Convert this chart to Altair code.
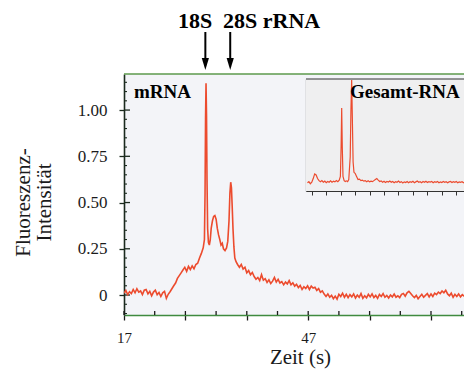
import altair as alt
import pandas as pd

SERIF = "Liberation Serif"
RED = "#ec4b2e"

# ---------------- main electropherogram (mRNA) ----------------
left_t = [17.0, 17.3, 17.6, 17.9, 18.2, 18.5, 18.8, 19.1, 19.4, 19.7, 20.0, 20.3, 20.6, 20.9,
          21.2, 21.5, 21.8, 22.1, 22.4, 22.7, 23.0, 23.3, 23.6, 23.9, 24.2, 24.5, 24.8]
left_v = [0.010, 0.025, 0.002, 0.018, 0.008, 0.030, 0.012, 0.034, 0.016, 0.022, 0.002, 0.026,
          0.030, 0.006, 0.020, -0.004, 0.016, 0.026, 0.002, 0.014, -0.008, 0.012, 0.020,
          -0.018, 0.004, 0.018, 0.034]

peak_t = [25.1, 25.4, 25.7, 26.0, 26.3, 26.6, 26.9, 27.2, 27.5, 27.8, 28.1, 28.4, 28.7, 29.0,
          29.3, 29.6, 29.9, 30.1, 30.2, 30.28, 30.36, 30.44, 30.52, 30.62, 30.75, 30.9, 31.05,
          31.2, 31.4, 31.6, 31.8, 32.0, 32.2, 32.4, 32.6, 32.8, 33.0, 33.2, 33.45, 33.7, 33.9,
          34.1, 34.25, 34.38, 34.5, 34.62, 34.75, 34.9, 35.05, 35.25, 35.5, 35.8, 36.1, 36.4,
          36.7, 37.0, 37.3, 37.6, 37.9]
peak_v = [0.050, 0.065, 0.090, 0.105, 0.120, 0.135, 0.150, 0.128, 0.155, 0.138, 0.158, 0.142,
          0.165, 0.172, 0.200, 0.225, 0.255, 0.300, 0.550, 0.950, 1.145, 0.970, 0.620, 0.360,
          0.285, 0.270, 0.300, 0.360, 0.400, 0.425, 0.430, 0.410, 0.360, 0.325, 0.300, 0.270,
          0.280, 0.250, 0.240, 0.255, 0.290, 0.400, 0.550, 0.610, 0.580, 0.480, 0.360, 0.260,
          0.200, 0.180, 0.165, 0.150, 0.165, 0.140, 0.150, 0.120, 0.132, 0.110, 0.122]

tail_t = [38.2, 38.5, 38.8, 39.1, 39.4, 39.7, 40.0, 40.3, 40.6, 40.9, 41.2, 41.5, 41.8, 42.1,
          42.4, 42.7, 43.0, 43.3, 43.6, 43.9, 44.2, 44.5, 44.8, 45.1, 45.4, 45.7, 46.0, 46.3,
          46.6, 46.9, 47.2, 47.5, 47.8, 48.1, 48.4, 48.7, 49.0, 49.3, 49.6, 49.9, 50.2, 50.5,
          50.8, 51.1, 51.4, 51.7, 52.0, 52.3, 52.6, 52.9, 53.2, 53.5, 53.8, 54.1, 54.4, 54.7,
          55.0, 55.3, 55.6, 55.9, 56.2, 56.5, 56.8, 57.1, 57.4, 57.7, 58.0, 58.3, 58.6, 58.9,
          59.2, 59.5, 59.8, 60.1, 60.4, 60.7, 61.0, 61.3, 61.6, 61.9, 62.2, 62.5, 62.8, 63.1,
          63.4, 63.7, 64.0, 64.3, 64.6, 64.9, 65.2, 65.5, 65.8, 66.1, 66.4, 66.7, 67.0, 67.3,
          67.6, 67.9, 68.2, 68.5, 68.8, 69.1, 69.4, 69.7, 70.0, 70.3, 70.6, 70.9, 71.2, 71.5,
          71.8, 72.1, 72.4, 72.7, 73.0]
tail_v = [0.100, 0.085, 0.095, 0.078, 0.110, 0.080, 0.088, 0.068, 0.082, 0.062, 0.075, 0.095,
          0.070, 0.085, 0.065, 0.072, 0.055, 0.070, 0.060, 0.078, 0.055, 0.066, 0.048, 0.058,
          0.040, 0.052, 0.030, 0.045, 0.035, 0.050, 0.030, 0.048, 0.038, 0.042, 0.025, 0.035,
          0.015, 0.022, 0.005, -0.008, 0.006, -0.012, -0.002, -0.020, -0.006, -0.022, 0.004,
          -0.008, 0.010, -0.012, 0.004, -0.014, 0.002, -0.010, 0.006, -0.016, 0.000, -0.012,
          0.008, -0.018, -0.004, -0.015, 0.004, -0.010, 0.006, -0.014, -0.002, -0.018, 0.003,
          -0.008, 0.008, -0.012, -0.002, -0.016, 0.000, -0.010, 0.005, -0.012, -0.004, -0.014,
          0.004, 0.008, -0.006, 0.012, 0.020, 0.008, -0.004, -0.014, -0.002, -0.020, -0.008,
          0.004, -0.012, -0.002, 0.008, -0.010, 0.006, -0.008, 0.010, 0.002, 0.016, 0.008,
          0.022, 0.012, 0.026, 0.006, -0.004, 0.010, -0.012, 0.004, -0.008, 0.006, -0.010,
          0.002, -0.006, 0.008, -0.004]

# ---------------- inset (Gesamt-RNA) ----------------
inset_t = [17.5, 18.0, 18.5, 19.0, 19.5, 20.0, 20.5, 21.0, 21.5, 22.0, 22.5, 23.0, 23.5, 24.0,
           24.5, 25.0, 25.5, 26.0, 26.5, 27.0, 27.5, 28.0, 28.5, 28.9, 29.15, 29.35, 29.55,
           29.8, 30.2, 30.6, 31.0, 31.4, 31.8, 32.3, 32.55, 32.8, 33.05, 33.3, 33.6, 34.0,
           34.5, 35.0, 35.5, 36.0, 36.5, 37.0, 37.5, 38.0, 38.5, 39.0, 39.5, 40.0, 40.5, 41.0,
           41.5, 42.0, 42.5, 43.0, 43.5, 44.0, 44.5, 45.0, 45.5, 46.0, 46.5, 47.0, 47.5, 48.0,
           48.5, 49.0, 49.5, 50.0, 50.5, 51.0, 51.5, 52.0, 52.5, 53.0, 53.5, 54.0, 54.5, 55.0,
           55.5, 56.0, 56.5, 57.0, 57.5, 58.0, 58.5, 59.0, 59.5, 60.0, 60.5, 61.0, 61.5, 62.0,
           62.5, 63.0, 63.5, 64.0, 64.5, 65.0, 65.5, 66.0, 66.5, 67.0, 67.5, 68.0, 68.5, 69.0,
           69.5, 70.0, 70.5, 71.0, 71.5, 72.0, 72.5, 73.0]
inset_v = [0.000, 0.010, -0.010, 0.005, 0.040, 0.085, 0.075, 0.040, 0.020, 0.010, 0.020, 0.005,
           0.015, 0.000, 0.012, 0.005, 0.018, 0.004, 0.014, 0.008, 0.020, 0.010, 0.025, 0.060,
           0.350, 0.720, 0.350, 0.060, 0.020, 0.012, 0.018, 0.010, 0.030, 0.250, 0.700, 0.990,
           0.600, 0.200, 0.100, 0.090, 0.060, 0.030, 0.035, 0.020, 0.025, 0.015, 0.020, 0.010,
           0.018, 0.008, 0.015, 0.010, 0.020, 0.030, 0.040, 0.025, 0.012, 0.018, 0.005, 0.014,
           0.002, 0.012, 0.006, 0.016, 0.004, 0.012, 0.000, 0.010, 0.004, 0.015, 0.002, 0.010,
           -0.002, 0.008, 0.002, 0.012, 0.000, 0.010, 0.004, 0.014, 0.000, 0.008, 0.016, 0.004,
           0.010, 0.000, 0.012, 0.004, 0.014, 0.002, 0.010, 0.006, 0.012, 0.000, 0.010, 0.004,
           0.012, 0.000, 0.008, 0.002, 0.012, 0.004, 0.010, 0.000, 0.008, 0.012, 0.002, 0.010,
           0.004, 0.012, 0.000, 0.008, 0.004, 0.010, 0.000, 0.008, 0.004, 0.010]

# ---------------- axes / annotations ----------------
x_ticks = [17, 22, 27, 32, 37, 42, 47, 52, 57, 62, 67, 72]
y_major = [0, 0.25, 0.5, 0.75, 1.0]
y_minor = [-0.1, -0.05, 0.05, 0.1, 0.15, 0.2, 0.3, 0.35, 0.4, 0.45, 0.55, 0.6, 0.65, 0.7,
           0.8, 0.85, 0.9, 0.95, 1.05, 1.1, 1.15]
inset_x_ticks = [19, 24, 29, 34, 39, 44, 49, 54, 59, 64, 69]
inset_y_ticks = [0, 0.125, 0.25, 0.375, 0.5, 0.625, 0.75, 0.875]
arrow_names = ["18S", "28S"]
arrow_t = [30.25, 34.3]
top_labels = ["18S", "28S rRNA"]
panel_labels = ["mRNA", "Gesamt-RNA"]

W, H = 340, 241
IX0 = 182  # inset left edge inside the plot
xs = alt.Scale(domain=[17, 17 + W / 6.14], nice=False, zero=False)
ys = alt.Scale(domain=[-0.108, 1.195], nice=False, zero=False)

main_df = pd.DataFrame({"t": left_t + peak_t + tail_t, "v": left_v + peak_v + tail_v})
inset_df = pd.DataFrame({"ti": inset_t, "vi": inset_v})

x_axis = alt.Axis(values=x_ticks, grid=False, tickSize=5, tickColor="#1b1b1b", tickWidth=1.3,
                  domainColor="#3f8a3f", domainWidth=1.6,
                  labelExpr="(datum.value==17||datum.value==47||datum.value==72) ? datum.label : ''",
                  labelFont=SERIF, labelFontSize=15, labelColor="#1b1b1b", labelPadding=10,
                  labelFlush=False,
                  title="Zeit (s)", titleFont=SERIF, titleFontSize=21, titleFontWeight="normal",
                  titleColor="#1b1b1b", titleX=176, titleY=48, titleAlign="center",
                  titleBaseline="alphabetic")
y_axis = alt.Axis(values=y_major, grid=False, tickSize=5, tickColor="#1b2a1e", tickWidth=1.3,
                  domainColor="#1b2a1e", domainWidth=1.6,
                  labelExpr="datum.value == 0 ? '0' : format(datum.value, '.2f')",
                  labelFont=SERIF, labelFontSize=17, labelColor="#1b1b1b", labelPadding=12,
                  title=["Fluoreszenz-", "Intensität"], titleFont=SERIF, titleFontSize=21,
                  titleFontWeight="normal", titleColor="#1b1b1b", titleAngle=270,
                  titleX=-112, titleY=128, titleAlign="center", titleBaseline="top",
                  titleLineHeight=21)

main_line = alt.Chart(main_df).mark_line(color=RED, strokeWidth=1.6, clip=True).encode(
    x=alt.X("t:Q", scale=xs, axis=x_axis),
    y=alt.Y("v:Q", scale=ys, axis=y_axis),
)

one = pd.DataFrame({"n": [0]})
inset_bg = alt.Chart(one).mark_rect(fill="#efeff0").encode(
    x=alt.value(IX0), x2=alt.value(W), y=alt.value(5), y2=alt.value(117))
inset_top = alt.Chart(one).mark_rule(color="#333333", strokeWidth=1.2).encode(
    x=alt.value(IX0), x2=alt.value(W), y=alt.value(5))
top_border = alt.Chart(one).mark_rule(color="#5d9a4d", strokeWidth=1.6).encode(
    x=alt.value(0), x2=alt.value(W), y=alt.value(0))

ymaj_in = alt.Chart(pd.DataFrame({"v": y_major})).mark_rule(color="#1b2a1e", strokeWidth=1.3).encode(
    y=alt.Y("v:Q", scale=ys), x=alt.value(0), x2=alt.value(6))
ymin_in = alt.Chart(pd.DataFrame({"v": y_minor})).mark_rule(color="#1b2a1e", strokeWidth=1.1).encode(
    y=alt.Y("v:Q", scale=ys), x=alt.value(0), x2=alt.value(3))
x_in = alt.Chart(pd.DataFrame({"t": x_ticks})).mark_rule(color="#1b1b1b", strokeWidth=1.3).encode(
    x=alt.X("t:Q", scale=xs), y=alt.value(H), y2=alt.value(H - 4))

arrows_df = pd.DataFrame({"t": arrow_t, "name": arrow_names})
arrow_shaft = alt.Chart(arrows_df).mark_rule(color="black", strokeWidth=2).encode(
    x=alt.X("t:Q", scale=xs), y=alt.value(-42), y2=alt.value(-12))
arrow_head = alt.Chart(arrows_df).mark_point(
    shape="M-0.6,-1L0.6,-1L0,1Z", filled=True, color="black", opacity=1, size=144
).encode(x=alt.X("t:Q", scale=xs), y=alt.value(-10))

main_layer = alt.layer(inset_bg, inset_top, top_border, ymaj_in, ymin_in, x_in,
                       main_line, arrow_shaft, arrow_head)

inset_line = alt.Chart(inset_df).mark_line(color=RED, strokeWidth=1.2, clip=True).encode(
    x=alt.X("ti:Q", scale=alt.Scale(domain=[17, 17 + (W - IX0) / 2.89], range=[IX0, W],
                                    nice=False, zero=False),
            axis=alt.Axis(orient="bottom", offset=-(H - 117), values=inset_x_ticks, labels=False,
                          title=None, grid=False, tickSize=4, tickColor="#333", domainColor="#333",
                          domainWidth=1.2)),
    y=alt.Y("vi:Q", scale=alt.Scale(domain=[-0.08, 1.0], range=[117, 5], nice=False, zero=False),
            axis=alt.Axis(orient="right", offset=-(W - IX0), values=inset_y_ticks, labels=False,
                          title=None, grid=False, tickSize=3, tickColor="#333", domainColor="#333",
                          domainWidth=1.2)),
)

panel_text = alt.Chart(pd.DataFrame({"label": panel_labels, "px": [10, 226]})).mark_text(
    font=SERIF, fontSize=19, fontWeight="bold", color="black", baseline="alphabetic", align="left"
).encode(x=alt.X("px:Q", scale=None), y=alt.value(24), text="label:N")

top_text = alt.Chart(pd.DataFrame({"label": top_labels, "px": [54, 99]})).mark_text(
    font=SERIF, fontSize=22, fontWeight="bold", color="black", baseline="alphabetic", align="left"
).encode(x=alt.X("px:Q", scale=None), y=alt.value(-46), text="label:N")

chart = alt.layer(main_layer, inset_line, panel_text, top_text).resolve_scale(
    x="independent", y="independent"
).properties(
    width=W, height=H,
    autosize=alt.AutoSizeParams(type="none"),
    padding={"left": 116, "top": 66, "right": 0, "bottom": 54},
    background="white",
).configure_view(stroke=None, fill="#f3f4f8").configure_axis(
    labelFont=SERIF, titleFont=SERIF
)

chart.save("out.html", embed_options={"renderer": "svg", "actions": False})
